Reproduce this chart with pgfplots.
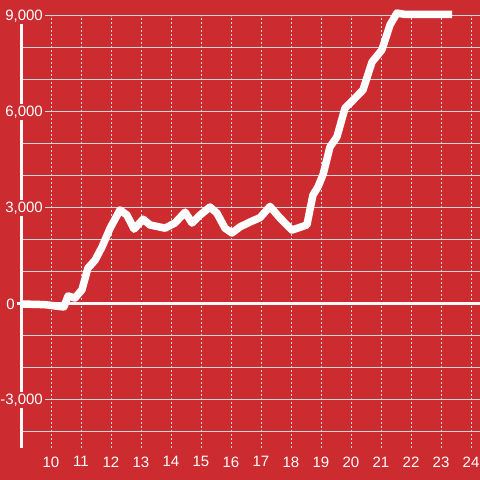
\documentclass[border=0pt]{standalone}
\usepackage{fontspec}
\setmainfont{Liberation Sans}
\usepackage{pgfplots}
\pgfplotsset{compat=1.18}
\definecolor{bgred}{RGB}{204,43,48}
\definecolor{gridc}{RGB}{215,215,215}
\begin{document}
\begin{tikzpicture}
\begin{axis}[
  set layers,
  at={(21pt,32pt)}, anchor=south west,
  scale only axis, width=459pt, height=432pt,
  xmin=9, xmax=24.3, ymin=-4500, ymax=9000,
  clip=false,
  axis line style={draw=none},
  major tick length=0pt, minor tick length=0pt,
  xtick={10,...,24},
  ytick={-3000,3000,6000,9000},
  minor ytick={-4000,-2000,-1000,1000,2000,4000,5000,7000,8000},
  extra y ticks={0},
  extra y tick style={grid=none, yticklabel style={xshift=-28pt, fill=none}},
  scaled y ticks=false,
  ymajorgrids, yminorgrids, xmajorgrids,
  y grid style={gridc, line width=1pt},
  minor y grid style={gridc, line width=1pt},
  x grid style={gridc, line width=1pt, dash pattern=on 2pt off 2pt},
  /pgf/number format/assume math mode=true,
  /pgf/number format/1000 sep={,},
  tick label style={font=\fontsize{15}{18}\selectfont, text=white},
  yticklabel style={anchor=east, xshift=24pt, fill=bgred, inner sep=2pt},
  xticklabel style={anchor=north, yshift=-5pt},
]
\begin{pgfonlayer}{axis background}
\fill[bgred] (axis cs:8.3,-5500) rectangle (axis cs:24.3,9500);
\end{pgfonlayer}
\begin{pgfonlayer}{axis grid}
\draw[white!95!gray, line width=3pt] (axis cs:9,-4500) -- (axis cs:9,8750);
\draw[white!95!gray, line width=3pt] (axis cs:8.87,0) -- (axis cs:24.3,0);
\end{pgfonlayer}
\addplot[white, line width=7.5pt, line join=round, line cap=butt] coordinates {
(9.0,0) (9.8,-20) (10.3,-80) (10.43,-90) (10.57,250) (10.8,190) (11.03,440)
(11.23,1120) (11.47,1370) (11.7,1780) (11.97,2370) (12.3,2940) (12.53,2780)
(12.77,2340) (13.07,2650) (13.3,2470) (13.8,2370) (14.13,2530) (14.47,2870)
(14.7,2530) (14.97,2780) (15.3,3030) (15.53,2840) (15.8,2370) (16.03,2220)
(16.3,2410) (16.63,2560) (16.97,2700) (17.3,3050) (17.63,2690) (18.03,2310)
(18.53,2470) (18.73,3400) (18.9,3660) (19.07,4050) (19.3,4910) (19.53,5220)
(19.8,6120) (20.07,6370) (20.4,6690) (20.7,7560) (21.03,7940) (21.3,8720)
(21.53,9090) (21.8,9050) (23.37,9050)
};
\end{axis}
\pgfresetboundingbox
\path (0,0) rectangle (480pt,480pt);
\end{tikzpicture}
\end{document}
